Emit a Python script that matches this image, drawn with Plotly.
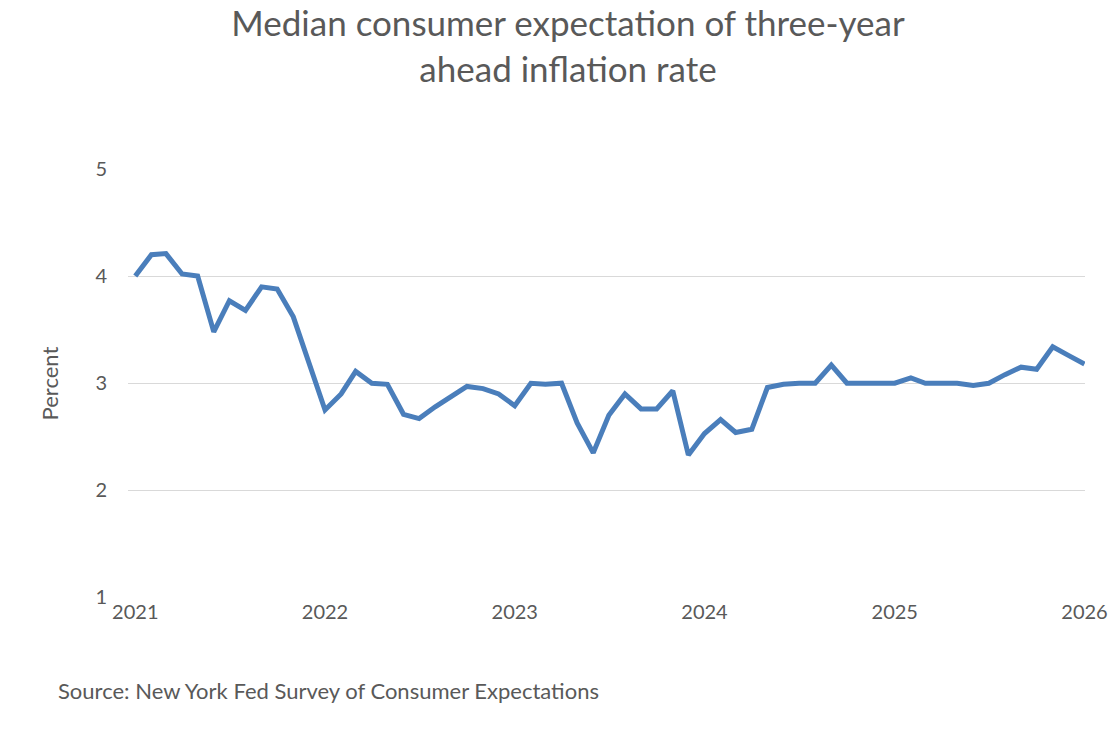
import plotly.graph_objects as go
import pandas as pd

months = pd.date_range("2021-01-01", "2026-01-01", freq="MS").strftime("%Y-%m-%d").tolist()
expectation = [4.00, 4.20, 4.21, 4.02, 4.00, 3.48, 3.77, 3.68, 3.90, 3.88, 3.62, 3.20,
               2.75, 2.90, 3.11, 3.00, 2.99, 2.71, 2.67, 2.78, 2.88, 2.97, 2.95, 2.90,
               2.79, 3.00, 2.99, 3.00, 2.63, 2.35, 2.70, 2.90, 2.76, 2.76, 2.93, 2.33,
               2.53, 2.66, 2.54, 2.57, 2.96, 2.99, 3.00, 3.00, 3.17, 3.00, 3.00, 3.00,
               3.00, 3.05, 3.00, 3.00, 3.00, 2.98, 3.00, 3.08, 3.15, 3.13, 3.34, 3.26,
               3.18]
year_ticks = ["2021-01-01", "2022-01-01", "2023-01-01", "2024-01-01", "2025-01-01", "2026-01-01"]
year_labels = ["2021", "2022", "2023", "2024", "2025", "2026"]
y_ticks = [1, 2, 3, 4, 5]

font = "Lato, Open Sans, sans-serif"
fig = go.Figure(go.Scatter(x=months, y=expectation, mode="lines",
                           line=dict(color="#4a7ebb", width=5)))
fig.update_layout(
    width=1120, height=738,
    paper_bgcolor="white", plot_bgcolor="white",
    margin=dict(l=120, r=43, t=161, b=148),
    font=dict(family=font, color="#595959", size=20),
    title=dict(text="Median consumer expectation of three-year<br>ahead inflation rate",
               x=0.5, xanchor="center", xref="container", yref="container", y=0.962, yanchor="top",
               font=dict(size=35, color="#595959", family=font)),
    showlegend=False,
    annotations=[dict(text="Source: New York Fed Survey of Consumer Expectations",
                      xref="paper", yref="paper", x=-0.075, y=-0.215, xanchor="left", yanchor="middle",
                      showarrow=False, font=dict(size=22, color="#595959"))],
)
fig.update_xaxes(type="date", range=["2020-12-18", "2026-01-02"], tickvals=year_ticks, ticktext=year_labels,
                 showgrid=False, showline=False, ticks="", ticklen=8)
fig.update_yaxes(range=[0.995, 5], tickvals=y_ticks, showgrid=True, gridcolor="#d9d9d9", gridwidth=1.3,
                 zeroline=False, ticks="", ticklen=0, ticklabelstandoff=20,
                 title=dict(text="Percent", font=dict(size=22), standoff=30))
fig.write_html("out.html")
